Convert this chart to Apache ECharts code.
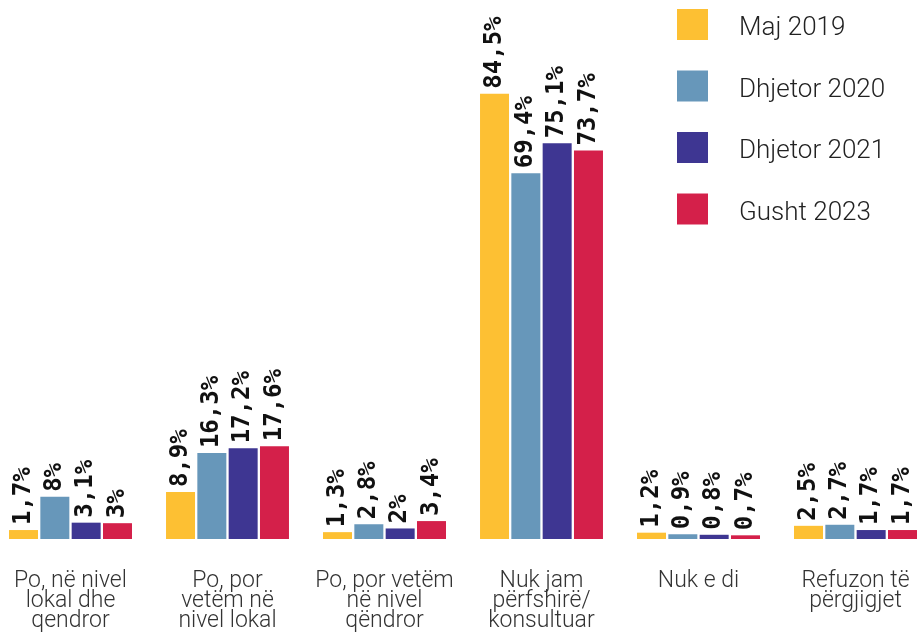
<!DOCTYPE html>
<html>
<head>
<meta charset="utf-8">
<script src="https://cdn.jsdelivr.net/npm/echarts@6/dist/echarts.min.js"></script>
<style>html,body{margin:0;padding:0;background:#fff;overflow:hidden;}#c{position:absolute;left:-8px;top:0;width:942px;height:634px;}</style>
</head>
<body>
<div id="c"></div>
<script>
const categories = [
  "Po, në nivel\nlokal dhe\nqendror",
  "Po, por\nvetëm në\nnivel lokal",
  "Po, por vetëm\nnë nivel\nqëndror",
  "Nuk jam\npërfshirë/\nkonsultuar",
  "Nuk e di",
  "Refuzon të\npërgjigjet"
];
const seriesNames = ["Maj 2019", "Dhjetor 2020", "Dhjetor 2021", "Gusht 2023"];
const maj2019 = [1.7, 8.9, 1.3, 84.5, 1.2, 2.5];
const dhjetor2020 = [8, 16.3, 2.8, 69.4, 0.9, 2.7];
const dhjetor2021 = [3.1, 17.2, 2, 75.1, 0.8, 1.7];
const gusht2023 = [3, 17.6, 3.4, 73.7, 0.7, 1.7];
const colors = ["#FDC033", "#6797BA", "#3E3692", "#D4204A"];

const dataSets = [maj2019, dhjetor2020, dhjetor2021, gusht2023];
const chart = echarts.init(document.getElementById('c'));
chart.setOption({
  animation: false,
  color: colors,
  legend: {
    orient: 'vertical',
    left: 685,
    top: 9,
    itemWidth: 31,
    itemHeight: 31,
    itemGap: 29,
    icon: 'rect',
    padding: 0,
    formatter: n => '{s| }\n{t|' + n + '}',
    textStyle: {
      fontFamily: 'Roboto', fontWeight: 300, fontSize: 26, color: '#222', padding: [0, 0, 0, 26],
      rich: {
        s: { fontSize: 2, lineHeight: 8 },
        t: { fontFamily: 'Roboto', fontWeight: 300, fontSize: 26, lineHeight: 23, color: '#222' }
      }
    },
    data: seriesNames
  },
  grid: { left: 0, right: 0, top: 12, bottom: 95, containLabel: false },
  xAxis: {
    type: 'category',
    data: categories,
    axisLine: { show: false },
    axisTick: { show: false },
    axisLabel: {
      interval: 0,
      margin: 32,
      fontFamily: 'Roboto',
      fontWeight: 300,
      fontSize: 23,
      lineHeight: 20,
      color: '#333'
    }
  },
  yAxis: {
    type: 'value', min: 0, max: 100, show: false, splitLine: { show: false }
  },
  series: dataSets.map((d, i) => ({
    name: seriesNames[i],
    type: 'bar',
    data: d,
    barWidth: 29,
    barGap: '8%',
    label: {
      show: true,
      position: 'top',
      rotate: 90,
      align: 'left',
      verticalAlign: 'middle',
      distance: 5,
      fontFamily: 'DejaVu Sans Mono',
      fontWeight: 'bold',
      fontSize: 24,
      color: '#111',
      formatter: p => String(p.value).replace('.', ',') + '%'
    }
  }))
});
</script>
</body>
</html>
